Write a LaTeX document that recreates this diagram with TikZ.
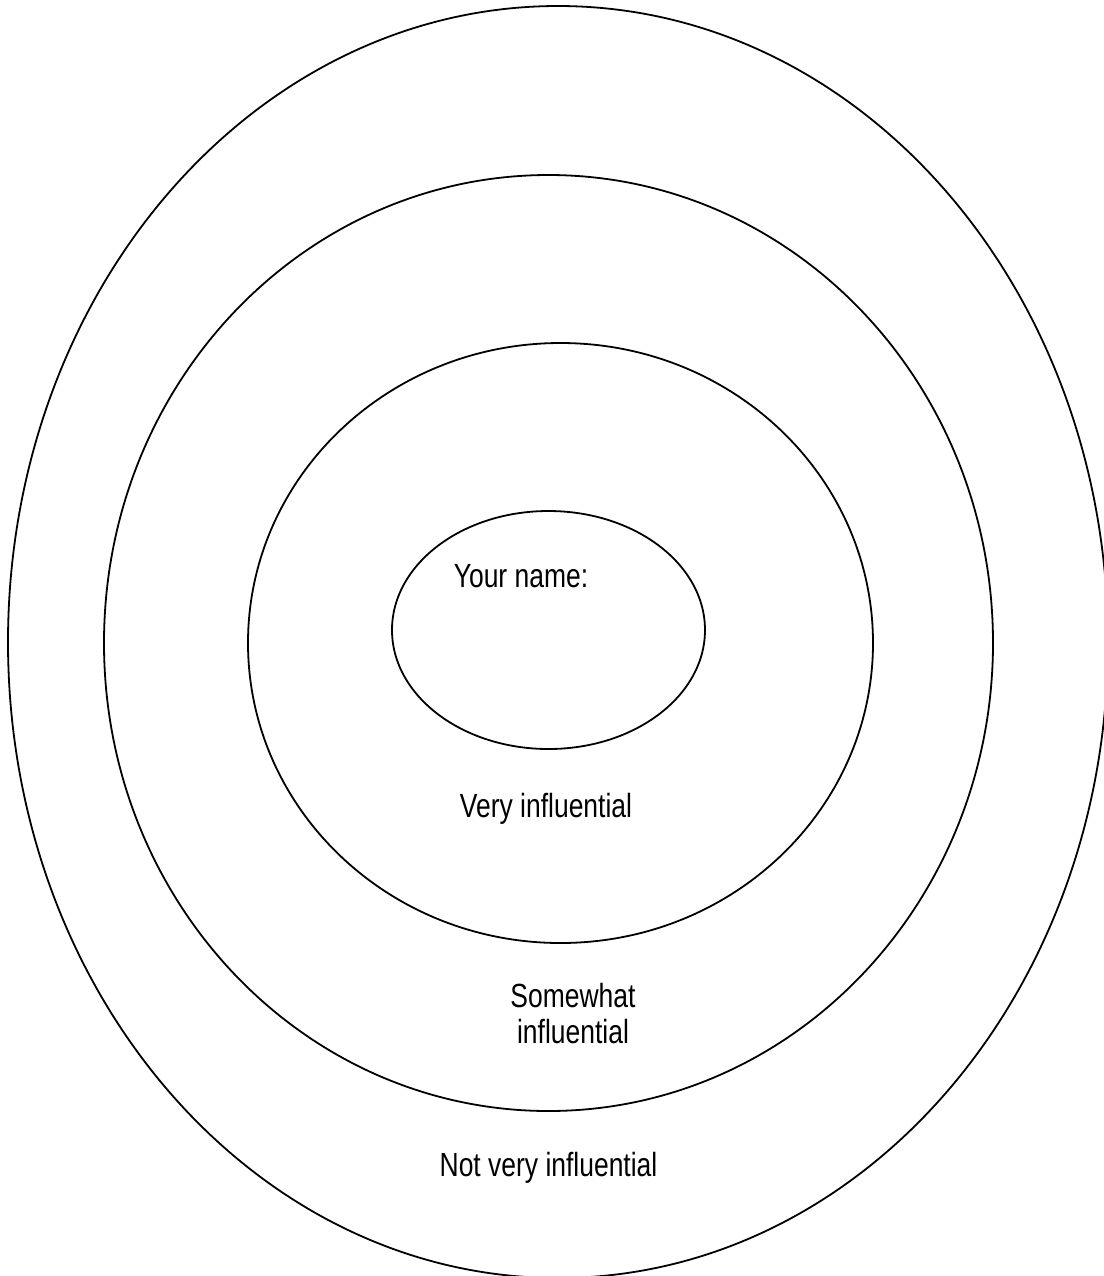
\documentclass[tikz,border=0pt]{standalone}
\usepackage{fontspec}
\setmainfont{Liberation Sans}[FakeStretch=0.79]
\usepackage{tikz}
\usetikzlibrary{positioning}
\tikzset{lab/.style={font=\fontsize{16.75}{18}\selectfont,inner sep=0pt,anchor=base,align=center}}

\begin{document}
\begin{tikzpicture}[x=0.5pt,y=-0.5pt]
\useasboundingbox (0,0) rectangle (1104,1276);
\clip (0,0) rectangle (1104,1276);
\foreach \cx/\cy/\rx/\ry in {558/642/550/636,548.5/643/444.5/468,560.5/643/312.5/300,548.5/630/156.5/119}{
  \draw[line width=0.9pt] (\cx,\cy) ellipse [x radius=\rx, y radius=\ry];}
\node[lab] (yourname) at (521,587) {Your name:};
\node[lab] (very) at (546,817) {Very influential};
\node[lab] (somewhat) at (573,1043) {Somewhat\\influential};
\node[lab] (notvery) at (548.5,1176) {Not very influential};
\end{tikzpicture}
\end{document}
